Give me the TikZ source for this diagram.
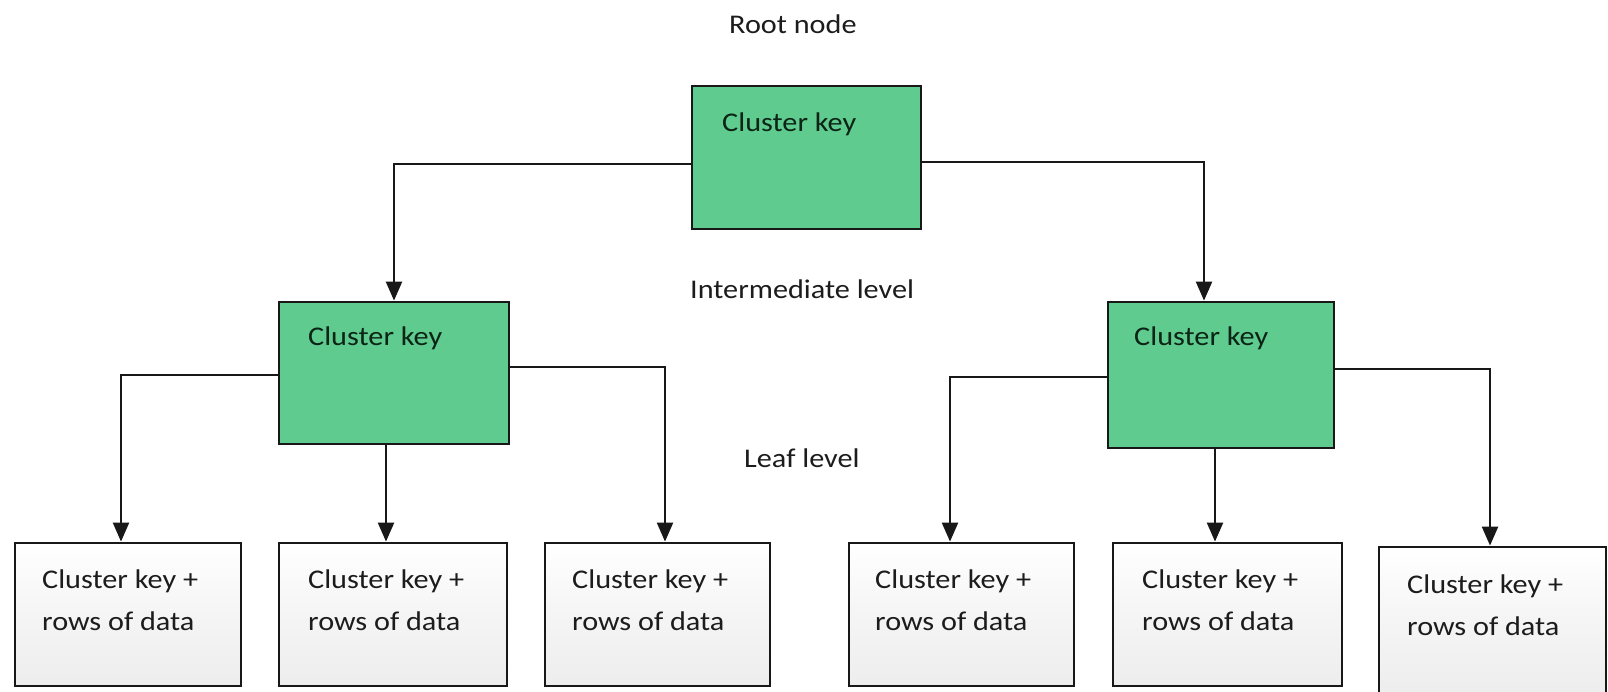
\documentclass[tikz,border=0pt]{standalone}
\usepackage{fontspec}
\setmainfont{Carlito}[FakeStretch=1.12]
\usetikzlibrary{arrows.meta}

\definecolor{keygreen}{RGB}{95,203,142}
\definecolor{inkline}{RGB}{24,24,24}
\definecolor{inktext}{RGB}{28,28,28}
\definecolor{keytextcol}{RGB}{12,36,22}

\tikzset{
  greenbox/.style={draw=inkline, line width=2.8pt, fill=keygreen, rectangle, inner sep=0pt},
  leafbox/.style={draw=inkline, line width=2.8pt, rectangle, inner sep=0pt,
    top color=white, bottom color=black!7, middle color=black!4},
  caption/.style={inner sep=0pt, anchor=base west, text=inktext,
    font=\fontsize{27}{42}\selectfont},
  keytext/.style={caption, text=keytextcol},
  leaftext/.style={caption, align=left},
  arr/.style={draw=inkline, line width=2.3pt,
    -{Triangle[width=16pt,length=19pt]}},
}

\begin{document}
\begin{tikzpicture}[x=1pt,y=-1pt]
\useasboundingbox (0,0) rectangle (1608,691);

% level captions
\node[caption] (capRoot) at (729,33) {Root node};
\node[caption] (capMid) at (690,298) {Intermediate level};
\node[caption] (capLeaf) at (744,467) {Leaf level};

% root and intermediate index pages
\node[greenbox, minimum width=229pt, minimum height=143pt] (root) at (806.5,157.5) {};
\node[greenbox, minimum width=230pt, minimum height=142pt] (intL) at (394,373) {};
\node[greenbox, minimum width=226pt, minimum height=146pt] (intR) at (1221,375) {};

\node[keytext] (rootT) at (722,131) {Cluster key};
\node[keytext] (intLT) at (308,345) {Cluster key};
\node[keytext] (intRT) at (1134,345) {Cluster key};

% leaf data pages
\node[leafbox, minimum width=226pt, minimum height=143pt] (leaf1) at (128,614.5) {};
\node[leafbox, minimum width=228pt, minimum height=143pt] (leaf2) at (393,614.5) {};
\node[leafbox, minimum width=225pt, minimum height=143pt] (leaf3) at (657.5,614.5) {};
\node[leafbox, minimum width=225pt, minimum height=143pt] (leaf4) at (961.5,614.5) {};
\node[leafbox, minimum width=229pt, minimum height=143pt] (leaf5) at (1227.5,614.5) {};
\node[leafbox, minimum width=227pt, minimum height=148pt] (leaf6) at (1492.5,621) {};

% two-line labels; the base anchor sits on the second line
\node[leaftext] (leaf1T) at (42,630) {Cluster key +\\rows of data};
\node[leaftext] (leaf2T) at (308,630) {Cluster key +\\rows of data};
\node[leaftext] (leaf3T) at (572,630) {Cluster key +\\rows of data};
\node[leaftext] (leaf4T) at (875,630) {Cluster key +\\rows of data};
\node[leaftext] (leaf5T) at (1142,630) {Cluster key +\\rows of data};
\node[leaftext] (leaf6T) at (1407,635) {Cluster key +\\rows of data};

% root to intermediate level
\draw[arr] ([yshift=-6.5pt]root.west) -| (intL.north);
\draw[arr] ([yshift=-4.5pt]root.east) -| ([xshift=-17pt]intR.north);

% intermediate to leaf level
\draw[arr] ([yshift=-2pt]intL.west) -| ([xshift=-7pt]leaf1.north);
\draw[arr] ([xshift=-8pt]intL.south) -- ([xshift=-8pt]intL.south |- leaf2.north);
\draw[arr] ([yshift=6pt]intL.east) -| ([xshift=7.5pt]leaf3.north);

\draw[arr] ([yshift=-2pt]intR.west) -| ([xshift=-11.5pt]leaf4.north);
\draw[arr] ([xshift=-6pt]intR.south) -- ([xshift=-6pt]intR.south |- leaf5.north);
\draw[arr] ([yshift=6pt]intR.east) -| ([xshift=-2.5pt]leaf6.north);
\end{tikzpicture}
\end{document}
